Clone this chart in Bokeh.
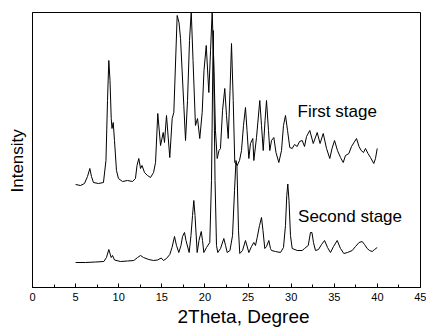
from bokeh.plotting import figure
from bokeh.models import Range1d, SingleIntervalTicker, FixedTicker, Label, Title
from bokeh.embed import file_html
from bokeh.resources import INLINE

# ---- data (2Theta in degrees, intensity in arbitrary units) ----
first_theta = [5.0, 5.57, 6.03, 6.38, 6.65, 6.84, 7.07, 7.65, 8.23, 8.52, 8.70, 8.85, 8.99, 9.13,
               9.22, 9.36, 9.51, 9.74, 9.97, 10.44, 11.02, 11.6, 11.94, 12.12, 12.33, 12.53, 12.7,
               12.99, 13.34, 13.69, 14.04, 14.27, 14.53, 14.85, 15.16, 15.31, 15.54, 15.92, 16.2,
               16.39, 16.78, 16.99, 17.17, 17.55, 17.75, 17.98, 18.21, 18.41, 18.62, 18.9, 19.14,
               19.4, 19.68, 19.89, 20.15, 20.45, 20.65, 20.84, 21.05, 21.22, 21.42, 21.63, 21.8,
               22.04, 22.3, 22.5, 22.7, 22.91, 23.08, 23.28, 23.46, 23.74, 24.01, 24.24, 24.47,
               24.7, 24.88, 25.09, 25.28, 25.55, 25.67, 25.98, 26.36, 26.56, 26.76, 26.97, 27.14,
               27.37, 27.52, 27.72, 27.99, 28.24, 28.57, 28.88, 29.11, 29.34, 29.58, 29.84, 30.12,
               30.39, 30.7, 30.97, 31.28, 31.55, 31.78, 32.16, 32.56, 33.02, 33.35, 33.72, 34.1,
               34.48, 34.74, 35.03, 35.37, 35.72, 36.04, 36.3, 36.69, 37.0, 37.29, 37.58, 37.87,
               38.12, 38.39, 38.62, 38.91, 39.2, 39.58, 39.78, 39.98]
first_intensity = [103, 102, 104, 111, 119, 111, 105, 104, 105, 127, 187, 227, 207, 169,
                   159, 165, 147, 117, 109, 106, 107, 106, 109, 122, 129, 119, 122,
                   115, 112, 110, 115, 125, 174, 142, 155, 145, 172, 130, 169,
                   175, 272, 265, 249, 182, 147, 187, 247, 276, 227, 162, 169,
                   149, 175, 217, 242, 195, 237, 276, 217, 157, 129, 137, 139,
                   177, 199, 172, 149, 197, 244, 187, 125, 122, 127, 137, 162,
                   180, 157, 129, 144, 149, 127, 150, 187, 162, 137, 167, 187,
                   157, 137, 147, 150, 135, 125, 137, 162, 172, 157, 140, 139,
                   143, 141, 146, 147, 141, 151, 157, 144, 155, 144, 154, 139,
                   129, 139, 147, 137, 130, 125, 132, 134, 141, 145, 149, 141,
                   137, 135, 139, 134, 130, 124, 129, 139]

second_theta = [5.0, 6.15, 7.31, 8.27, 8.58, 8.85, 9.13, 9.28, 9.51, 10.21, 11.02, 11.75, 12.18,
                12.53, 12.87, 13.49, 14.03, 14.5, 14.93, 15.19, 15.54, 15.92, 16.18, 16.47, 16.7,
                16.97, 17.22, 17.4, 17.63, 17.8, 18.17, 18.38, 18.56, 18.71, 18.85, 19.1, 19.31,
                19.57, 19.72, 19.87, 20.18, 20.56, 20.76, 20.96, 21.17, 21.34, 21.49, 21.81, 22.19,
                22.39, 22.58, 22.9, 23.2, 23.43, 23.6, 23.71, 23.89, 24.04, 24.36, 24.7, 25.09,
                25.4, 25.67, 25.86, 26.06, 26.33, 26.56, 26.73, 26.94, 27.14, 27.41, 27.6, 27.72,
                28.18, 28.76, 29.11, 29.34, 29.49, 29.61, 29.75, 29.92, 30.12, 30.7, 31.28, 31.55,
                31.98, 32.24, 32.41, 32.59, 32.82, 33.17, 33.52, 33.87, 34.22, 34.56, 34.91, 35.34,
                35.72, 36.11, 36.53, 37.08, 37.46, 37.87, 38.24, 38.51, 38.82, 39.09, 39.4, 39.67,
                39.98]
second_intensity = [25, 25, 25.5, 26, 30, 38, 30, 32, 27.5, 26, 26.5, 27, 30,
                    32, 30, 28, 27, 27.5, 29.5, 27, 29, 33, 40, 51, 42,
                    35, 42, 51, 55, 47, 35, 52, 72, 87, 72, 35, 47,
                    56, 47, 35, 40, 45, 107, 257, 107, 42, 35, 39, 49,
                    42, 35, 37, 52, 97, 127, 122, 57, 34, 37, 47, 35,
                    41, 45, 42, 50, 62, 70, 57, 39, 41, 47, 39, 37,
                    36, 35, 40, 62, 92, 103.5, 87, 52, 39, 37, 37, 39,
                    42, 55, 55, 45, 37, 38, 43, 47, 40, 35, 41, 47,
                    39, 34, 35, 37, 41, 45, 46, 43, 39, 37, 36, 38,
                    40]

x_ticks_interval = 5
series_labels = ["First stage", "Second stage"]
x_title = "2Theta, Degree"
y_title = "Intensity"

FONT = "Liberation Sans"

p = figure(width=426, height=329, output_backend="svg", toolbar_location=None,
           x_range=Range1d(0, 45), y_range=Range1d(0, 275),
           min_border_left=32, min_border_right=6, min_border_top=12, min_border_bottom=42)
p.background_fill_color = "white"
p.border_fill_color = "white"
p.outline_line_color = "black"
p.outline_line_width = 1
p.xgrid.visible = False
p.ygrid.visible = False

p.line(first_theta, first_intensity, line_color="black", line_width=1)
p.line(second_theta, second_intensity, line_color="black", line_width=1)

# x axis
xa = p.xaxis[0]
xa.ticker = SingleIntervalTicker(interval=x_ticks_interval, num_minor_ticks=2)
xa.major_tick_in = 4
xa.major_tick_out = 0
xa.minor_tick_in = 3
xa.minor_tick_out = 0
xa.major_label_standoff = 5
xa.major_label_text_font = FONT
xa.major_label_text_font_size = "11px"
xa.major_label_text_color = "black"
xa.axis_line_color = "black"
xa.major_tick_line_color = "black"
xa.minor_tick_line_color = "black"

# y axis (no ticks)
ya = p.yaxis[0]
ya.ticker = FixedTicker(ticks=[])
ya.major_tick_in = 0
ya.major_tick_out = 0
ya.minor_tick_in = 0
ya.minor_tick_out = 0
ya.major_label_text_font_size = "0px"
ya.axis_line_color = "black"

# axis titles
p.add_layout(Title(text=x_title, align="left", offset=145, text_font=FONT,
                   text_font_size="19px", text_font_style="normal", text_color="black",
                   standoff=0), "below")
p.add_layout(Title(text=y_title, align="left", offset=95, text_font=FONT,
                   text_font_size="17px", text_font_style="normal", text_color="black",
                   standoff=11), "left")

# series annotations
p.add_layout(Label(x=30.74, y=176, text=series_labels[0], text_font=FONT, text_font_size="17px",
                   text_align="left", text_baseline="alphabetic", text_color="black"))
p.add_layout(Label(x=30.8, y=71.5, text=series_labels[1], text_font=FONT, text_font_size="17px",
                   text_align="left", text_baseline="alphabetic", text_color="black"))

open("out.html", "w").write(file_html(p, INLINE))
